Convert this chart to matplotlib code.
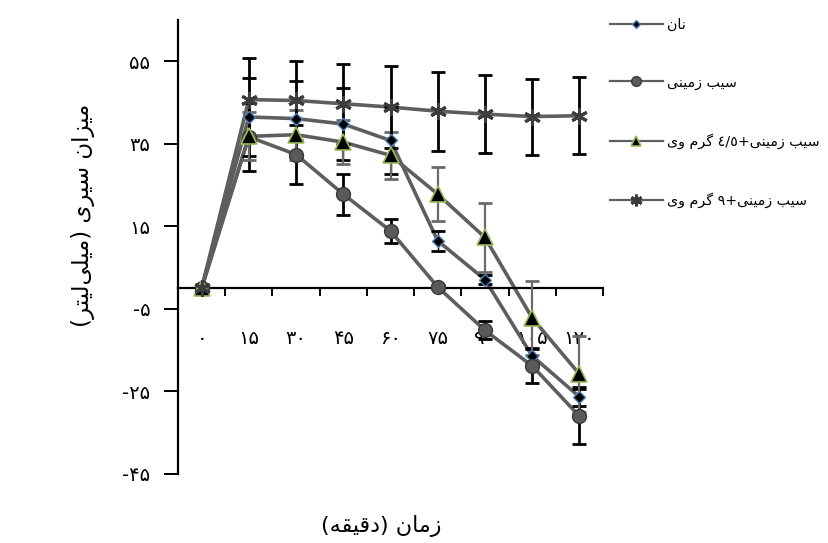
import re
import numpy as np
import matplotlib
matplotlib.use('Agg')
import matplotlib.pyplot as plt

plt.rcParams['font.family'] = ['DejaVu Sans']

# زمان اندازه‌گیری (دقیقه) و میانگین سیری هر گروه
zamanha = [0, 15, 30, 45, 60, 75, 90, 105, 120]

nan = [0, 41.5, 41.1, 39.8, 35.8, 11.5, 2.1, -16.4, -26.3]
nan_err = [0, 9.5, 9.2, 8.8, 8.2, 2.4, 1.0, 2.0, 2.3]

sib = [0, 36.7, 32.4, 22.8, 13.9, 0.3, -10.2, -18.8, -31.0]
sib_err = [0, 8.2, 7.1, 5.0, 2.9, 0.5, 2.2, 4.1, 6.7]

sib_vey45 = [0, 36.8, 37.2, 35.4, 32.2, 22.8, 12.3, -7.2, -20.8]
sib_vey45_err = [0, 5.8, 6.1, 5.3, 5.7, 6.6, 8.3, 8.9, 9.3]

sib_vey9 = [0, 45.7, 45.5, 44.7, 43.9, 42.9, 42.2, 41.6, 41.8]
sib_vey9_err = [0, 10.1, 9.6, 9.7, 9.9, 9.6, 9.4, 9.2, 9.3]

y_ticks = [-45, -25, -5, 15, 35, 55]

# matplotlib حروف فارسی را به هم نمی‌چسباند، پس شکل حروف را خودمان می‌سازیم
FORMS = {
    'ا': ('\uFE8D', '\uFE8E', None, None),
    'ب': ('\uFE8F', '\uFE90', '\uFE91', '\uFE92'),
    'ت': ('\uFE95', '\uFE96', '\uFE97', '\uFE98'),
    'د': ('\uFEA9', '\uFEAA', None, None),
    'ر': ('\uFEAD', '\uFEAE', None, None),
    'ز': ('\uFEAF', '\uFEB0', None, None),
    'س': ('\uFEB1', '\uFEB2', '\uFEB3', '\uFEB4'),
    'ق': ('\uFED5', '\uFED6', '\uFED7', '\uFED8'),
    'ل': ('\uFEDD', '\uFEDE', '\uFEDF', '\uFEE0'),
    'م': ('\uFEE1', '\uFEE2', '\uFEE3', '\uFEE4'),
    'ن': ('\uFEE5', '\uFEE6', '\uFEE7', '\uFEE8'),
    'ه': ('\uFEE9', '\uFEEA', '\uFEEB', '\uFEEC'),
    'و': ('\uFEED', '\uFEEE', None, None),
    'ی': ('\uFBFC', '\uFBFD', '\uFBFE', '\uFBFF'),
    'گ': ('\uFB92', '\uFB93', '\uFB94', '\uFB95'),
}


def shape(text):
    out = []
    for i, ch in enumerate(text):
        if ch not in FORMS:
            if ch != '\u200c':
                out.append(ch)
            continue
        prev = text[i - 1] if i > 0 else ''
        nxt = text[i + 1] if i + 1 < len(text) else ''
        join_prev = prev in FORMS and FORMS[prev][2] is not None
        join_next = nxt in FORMS and FORMS[ch][2] is not None
        iso, fin, ini, med = FORMS[ch]
        if join_prev and join_next:
            out.append(med)
        elif join_prev:
            out.append(fin)
        elif join_next:
            out.append(ini)
        else:
            out.append(iso)
    return ''.join(out)


def fa(text):
    s = shape(text)[::-1]
    s = re.sub(r'[0-9٠-٩۰-۹]+(?:/[0-9٠-٩۰-۹]+)*', lambda m: m.group(0)[::-1], s)
    return s.translate(str.maketrans('()', ')('))


def fa_num(n):
    s = str(abs(n)).translate(str.maketrans('0123456789', '۰۱۲۳۴۵۶۷۸۹'))
    return ('-' if n < 0 else '') + s


fig = plt.figure(figsize=(8.29, 5.43), dpi=100)
ax = fig.add_axes([0.2147, 0.1271, 0.5127, 0.8361])

x = np.arange(len(zamanha))
line_c = '#5e5e5e'

series = [
    (nan, nan_err, 'نان',
     dict(marker='D', ms=6.5, mfc='black', mec='#4f81bd', mew=1.0),
     dict(color='black', lw=1.0)),
    (sib, sib_err, 'سیب زمینی',
     dict(marker='o', ms=10, mfc='#5a5a5a', mec='#3a3a3a', mew=1.0),
     dict(color='black', lw=2.0)),
    (sib_vey45, sib_vey45_err, 'سیب زمینی+٤/٥ گرم وی',
     dict(marker='^', ms=11, mfc='black', mec='#9bbb59', mew=1.2),
     dict(color='#6a6a6a', lw=1.6)),
    (sib_vey9, sib_vey9_err, 'سیب زمینی+۹ گرم وی',
     dict(marker=(6, 2, 0), ms=12, mfc='#555555', mec='#3c3c3c', mew=2.2),
     dict(color='black', lw=2.0)),
]

handles = []
for vals, err, label, mk, eb in series:
    ax.plot(x, vals, color=line_c, lw=2.6, zorder=2, solid_capstyle='round')
    _, caps, bars = ax.errorbar(x[1:], vals[1:], yerr=err[1:], fmt='none',
                                ecolor=eb['color'], elinewidth=eb['lw'],
                                capsize=5, capthick=2.0, zorder=3)
    for c in caps:
        c.set_color('black')
    ax.plot(x, vals, ls='none', zorder=4, **mk)
    h, = plt.plot([], [], color=line_c, lw=1.6, **{**mk, 'ms': mk['ms'] * 0.7})
    handles.append((h, fa(label)))

ax.set_xlim(-0.5, len(zamanha) - 0.5)
ax.set_ylim(-45, 65)

ax.spines['top'].set_visible(False)
ax.spines['right'].set_visible(False)
ax.spines['bottom'].set_position(('data', 0))
ax.spines['left'].set_linewidth(1.6)
ax.spines['bottom'].set_linewidth(1.6)

# خط‌های تیک بین دسته‌ها و برچسب‌ها وسط هر دسته
ax.set_xticks(x + 0.5)
ax.set_xticklabels([])
ax.tick_params(axis='x', which='major', direction='out', length=6, width=1.4)
ax.set_xticks(x, minor=True)
ax.set_xticklabels([fa_num(t) for t in zamanha], minor=True, fontsize=14)
ax.tick_params(axis='x', which='minor', length=0, pad=29)

ax.set_yticks(y_ticks)
ax.set_yticklabels([fa_num(t) for t in y_ticks], fontsize=14)
ax.tick_params(axis='y', direction='out', length=10, width=1.4, pad=10)

fig.text(83 / 829, 1 - 215 / 543, fa('میزان سیری (میلی\u200cلیتر)'),
         rotation=90, ha='center', va='center', fontsize=16.5)
fig.text(381 / 829, 1 - 526 / 543, fa('زمان (دقیقه)'),
         ha='center', va='center', fontsize=16)

leg = fig.legend([h for h, _ in handles], [t for _, t in handles],
                 loc='upper left', bbox_to_anchor=(604 / 829, 1 - 12 / 543),
                 frameon=False, fontsize=10.3, handlelength=3.7,
                 handletextpad=0.3, labelspacing=3.05, borderaxespad=0)

fig.savefig('out.png', dpi=100)
